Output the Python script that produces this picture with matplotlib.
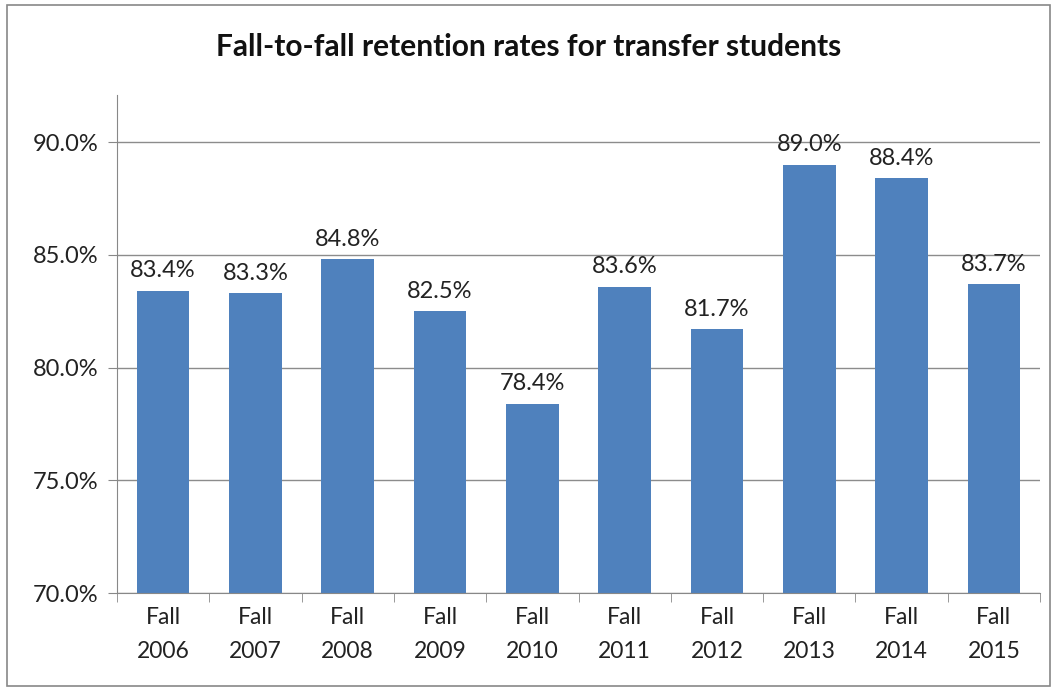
import matplotlib.pyplot as plt
import numpy as np
from matplotlib.patches import Rectangle

plt.rcParams['font.family'] = ['Lato', 'DejaVu Sans']

terms = ["Fall\n2006", "Fall\n2007", "Fall\n2008", "Fall\n2009", "Fall\n2010",
         "Fall\n2011", "Fall\n2012", "Fall\n2013", "Fall\n2014", "Fall\n2015"]
retention = [83.4, 83.3, 84.8, 82.5, 78.4, 83.6, 81.7, 89.0, 88.4, 83.7]
yticks = [70, 75, 80, 85, 90]

fig = plt.figure(figsize=(10.57, 6.87), dpi=100)
ax = fig.add_axes([117 / 1057, 1 - 593 / 687, (1040 - 117) / 1057, (593 - 95) / 687])

x = np.arange(len(terms))
ax.bar(x, retention, width=0.57, color='#4F81BD', zorder=3)

for xi, v in zip(x, retention):
    ax.annotate(f"{v:.1f}%", (xi, v), xytext=(0, 7), textcoords='offset points',
                ha='center', va='bottom', fontsize=17, color='#222222')

ax.set_xlim(-0.5, len(terms) - 0.5)
ax.set_ylim(70, 92.1)
ax.set_yticks(yticks)
ax.set_yticklabels([f"{t:.1f}%" for t in yticks], fontsize=17, color='#222222')
ax.set_xticks(x)
ax.set_xticklabels(terms, fontsize=16.5, color='#222222', linespacing=1.75)
ax.tick_params(axis='x', length=0, pad=10)
ax.tick_params(axis='y', length=6.5, color='#888888', pad=7)
# category boundary ticks
ax.set_xticks(np.arange(-0.5, len(terms)), minor=True)
ax.tick_params(axis='x', which='minor', length=6.5, color='#888888', direction='out')

ax.grid(axis='y', color='#8c8c8c', linewidth=1, zorder=0)
for s in ['top', 'right']:
    ax.spines[s].set_visible(False)
for s in ['left', 'bottom']:
    ax.spines[s].set_color('#888888')
    ax.spines[s].set_zorder(4)

fig.text(0.5, 1 - 47 / 687, "Fall-to-fall retention rates for transfer students",
         ha='center', va='center', fontsize=21.5, fontweight='bold', color='#111111')

fig.patches.append(Rectangle((7 / 1057, 1 / 687), 1043 / 1057, 681 / 687,
                             transform=fig.transFigure, fill=False,
                             edgecolor='#888888', linewidth=1.2))

fig.savefig("out.png", dpi=100)
